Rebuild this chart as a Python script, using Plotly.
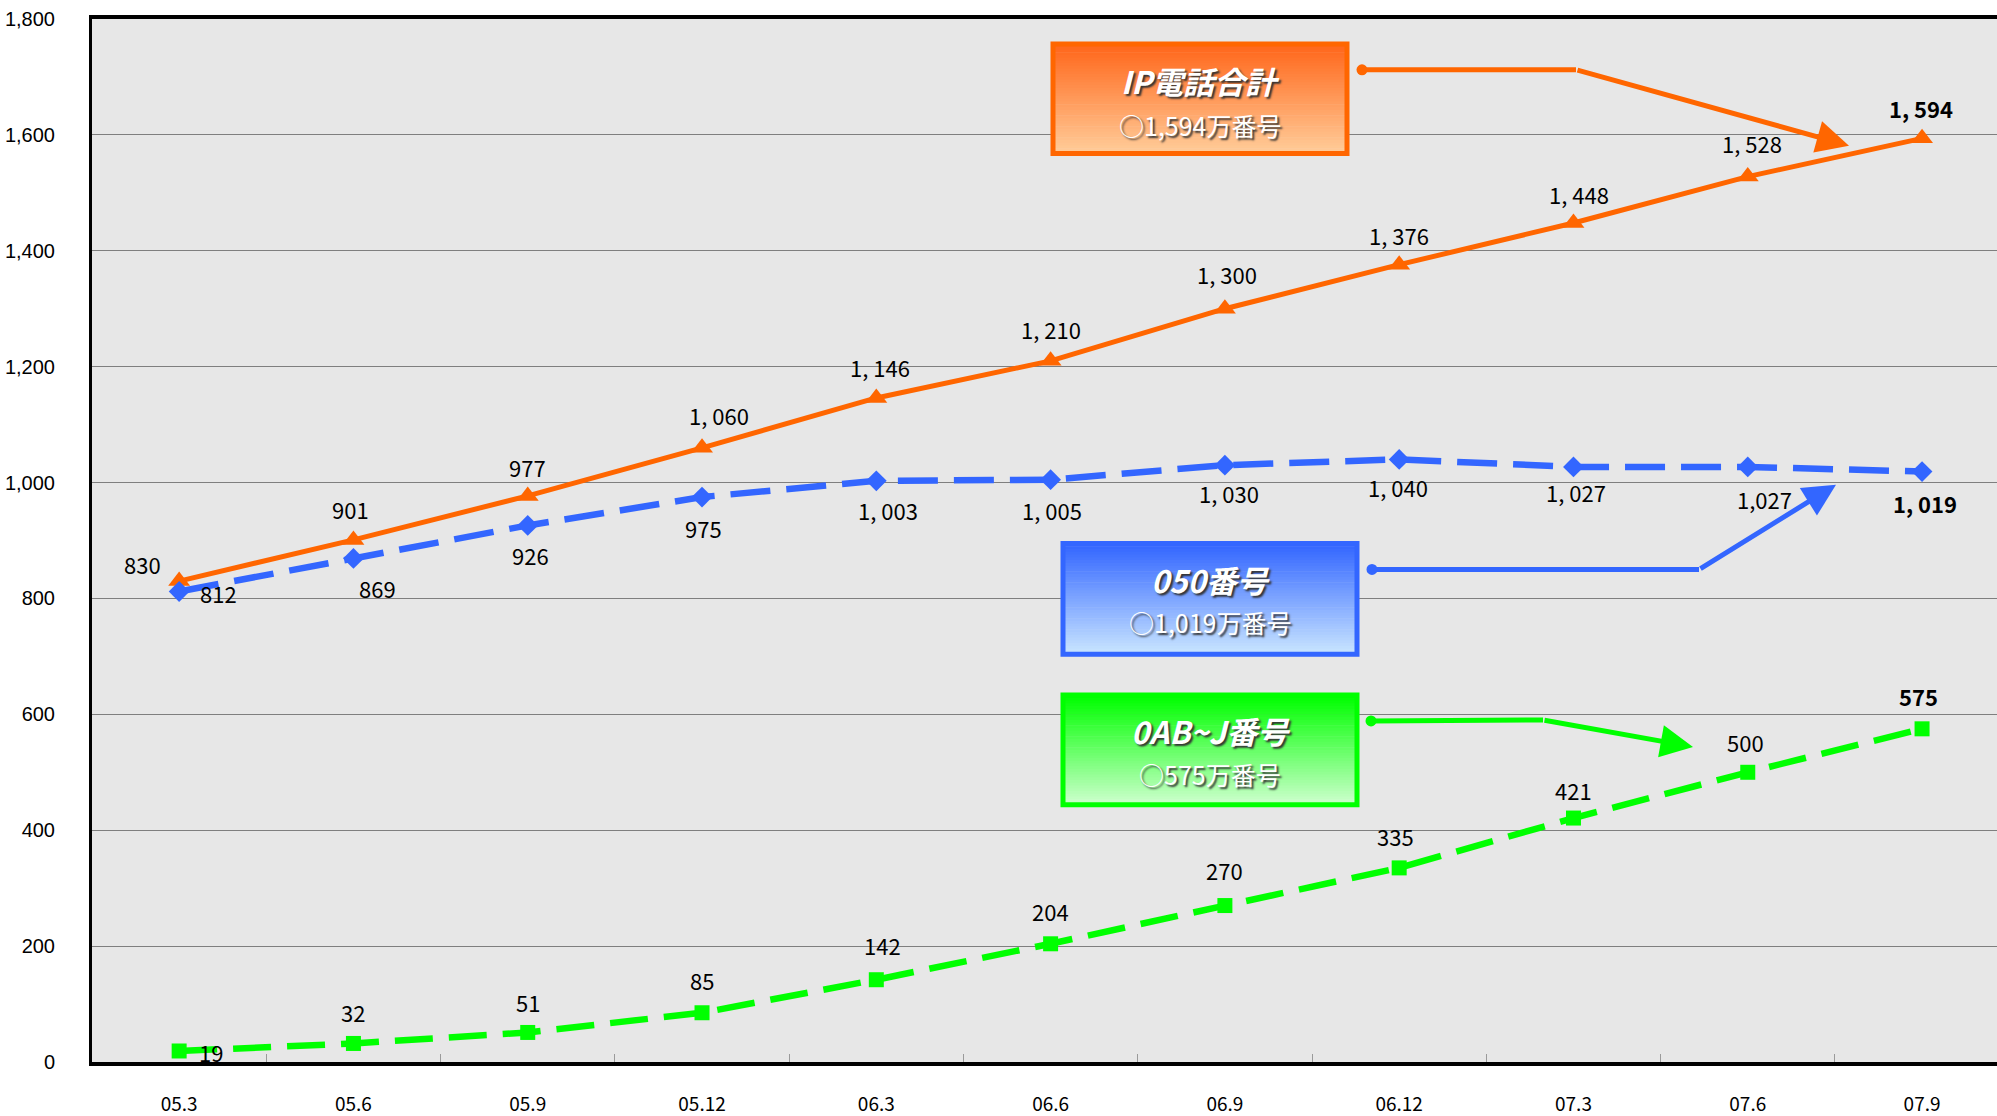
import plotly.graph_objects as go

# ---------------- data ----------------
categories = ["05.3", "05.6", "05.9", "05.12", "06.3", "06.6", "06.9", "06.12", "07.3", "07.6", "07.9"]
ip_total = [830, 901, 977, 1060, 1146, 1210, 1300, 1376, 1448, 1528, 1594]
num_050 = [812, 869, 926, 975, 1003, 1005, 1030, 1040, 1027, 1027, 1019]
num_0abj = [19, 32, 51, 85, 142, 204, 270, 335, 421, 500, 575]
y_tickvals = [0, 200, 400, 600, 800, 1000, 1200, 1400, 1600, 1800]
y_ticktext = ["0", "200", "400", "600", "800", "1,000", "1,200", "1,400", "1,600", "1,800"]

box_titles = ["IP電話合計", "050番号", "0AB~J番号"]
box_subtitles = ["○1,594万番号", "○1,019万番号", "○575万番号"]

# ---------------- styles / positions ----------------
ORANGE = "#ff6600"
BLUE = "#3366ff"
GREEN = "#00ff00"

W, H = 1997, 1116
L, RGT, T, B = 92, 1997, 19, 1065


def px(x):
    return (x - L) / (RGT - L)


def py(y):
    return (B - y) / (B - T)


# label offsets (pixels): (xshift, yshift)
S = 1.274
off_ip = [(-29, -13), (-2, -24), (0, -23), (13, -26), (3, -24), (0, -25), (2, -27), (0, -23), (4, -23), (3, -26), (-1, -24)]
off_050 = [(31, 1), (19, 23), (2, 23), (1, 24), (9, 23), (1, 24), (3, 22), (-1, 22), (2, 20), (13, 25), (2, 25)]
off_0abj = [(25, 1), (0, -25), (0, -24), (0, -26), (5, -27), (0, -26), (0, -28), (-3, -25), (0, -22), (-2, -24), (-3, -26)]

fig = go.Figure()

fig.add_trace(go.Scatter(
    x=categories, y=ip_total, mode="lines+markers", name="IP電話合計",
    line=dict(color=ORANGE, width=5),
    marker=dict(symbol="triangle-up", size=19, color=ORANGE),
))
fig.add_trace(go.Scatter(
    x=categories, y=num_050, mode="lines+markers", name="050番号",
    line=dict(color=BLUE, width=6.5, dash="40px,16px"),
    marker=dict(symbol="diamond", size=16, color=BLUE),
))
fig.add_trace(go.Scatter(
    x=categories, y=num_0abj, mode="lines+markers", name="0AB~J番号",
    line=dict(color=GREEN, width=6.5, dash="38px,16px"),
    marker=dict(symbol="square", size=15, color=GREEN),
))

annotations = []
LABEL_FONT = "Noto Sans CJK JP"


def fmt(v, spaced=True):
    s = f"{v:,}"
    return s.replace(",", ", ") if spaced else s


def add_labels(values, offsets, spaced=True, nospace_idx=()):
    n = len(values)
    for i, v in enumerate(values):
        txt = fmt(v, spaced and i not in nospace_idx)
        last = i == n - 1
        annotations.append(dict(
            x=i, y=v, xref="x", yref="y", text=txt, showarrow=False,
            xanchor="center", yanchor="middle",
            xshift=offsets[i][0] * S, yshift=-offsets[i][1] * S,
            font=dict(family=LABEL_FONT, size=22, color="#000000",
                      weight="bold" if last else "normal"),
        ))


add_labels(ip_total, off_ip)
add_labels(num_050, off_050, nospace_idx=(9,))
add_labels(num_0abj, off_0abj)

shapes = []


def gradient_box(x0, y0, x1, y1, top_rgb, bot_rgb, border, n=40):
    hgt = (y1 - y0) / n
    for k in range(n):
        t = k / (n - 1)
        r = round(top_rgb[0] + (bot_rgb[0] - top_rgb[0]) * t)
        g = round(top_rgb[1] + (bot_rgb[1] - top_rgb[1]) * t)
        b = round(top_rgb[2] + (bot_rgb[2] - top_rgb[2]) * t)
        shapes.append(dict(
            type="rect", xref="paper", yref="paper",
            x0=px(x0), x1=px(x1), y0=py(y0 + k * hgt), y1=py(y0 + (k + 1) * hgt + 0.6),
            fillcolor=f"rgb({r},{g},{b})", line=dict(width=0), layer="above",
        ))
    shapes.append(dict(
        type="rect", xref="paper", yref="paper",
        x0=px(x0), x1=px(x1), y0=py(y0), y1=py(y1),
        fillcolor="rgba(0,0,0,0)", line=dict(color=border, width=5), layer="above",
    ))


boxes = [
    dict(x0=1053, y0=44, x1=1347, y1=154, top=(255, 102, 26), bot=(255, 204, 153), border=ORANGE,
         ty1=81, ty2=125),
    dict(x0=1063, y0=545, x1=1357, y1=656, top=(51, 102, 255), bot=(200, 228, 255), border=BLUE,
         ty1=581, ty2=624),
    dict(x0=1063, y0=697, x1=1357, y1=807, top=(0, 255, 0), bot=(204, 255, 204), border=GREEN,
         ty1=733, ty2=776),
]

for bx, t1, t2 in zip(boxes, box_titles, box_subtitles):
    gradient_box(bx["x0"], bx["y0"], bx["x1"], bx["y1"], bx["top"], bx["bot"], bx["border"])
    cx = (bx["x0"] + bx["x1"]) / 2
    annotations.append(dict(
        x=px(cx), y=py(bx["ty1"]), xref="paper", yref="paper", text=t1, showarrow=False,
        xanchor="center", yanchor="middle",
        font=dict(family=LABEL_FONT, size=31, color="white", weight="bold", style="italic",
                  shadow="2px 2px 2px #333333"),
    ))
    annotations.append(dict(
        x=px(cx), y=py(bx["ty2"]), xref="paper", yref="paper", text=t2, showarrow=False,
        xanchor="center", yanchor="middle",
        font=dict(family=LABEL_FONT, size=25, color="white",
                  shadow="2px 2px 2px #333333"),
    ))

connectors = [
    dict(start=(1362, 70), mid=(1576, 70), tip=(1849, 146), color=ORANGE),
    dict(start=(1372, 571), mid=(1699, 571), tip=(1836, 486), color=BLUE),
    dict(start=(1371, 723), mid=(1543, 722), tip=(1693, 749), color=GREEN),
]
for cn in connectors:
    (sx, sy), (mx, my), (tx, ty) = cn["start"], cn["mid"], cn["tip"]
    shapes.append(dict(type="line", xref="paper", yref="paper",
                       x0=px(sx), y0=py(sy), x1=px(mx), y1=py(my),
                       line=dict(color=cn["color"], width=5), layer="above"))
    shapes.append(dict(type="circle", xref="paper", yref="paper",
                       x0=px(sx - 5.5), x1=px(sx + 5.5), y0=py(sy + 5.5), y1=py(sy - 5.5),
                       fillcolor=cn["color"], line=dict(width=0), layer="above"))
    annotations.append(dict(
        x=px(tx), y=py(ty), xref="paper", yref="paper", text="",
        showarrow=True, ax=mx - tx, ay=my - ty, axref="pixel", ayref="pixel",
        arrowhead=2, arrowsize=1.3, arrowwidth=5, arrowcolor=cn["color"],
    ))

fig.update_layout(
    width=W, height=H,
    margin=dict(l=L, r=W - RGT, t=T, b=H - B, pad=0),
    paper_bgcolor="white",
    plot_bgcolor="#e7e7e7",
    showlegend=False,
    shapes=shapes,
    annotations=annotations,
    xaxis=dict(
        type="category", range=[-0.5, 10.43],
        showline=True, linecolor="black", linewidth=4, mirror=True,
        showgrid=False, zeroline=False,
        ticks="inside", tickson="boundaries", ticklen=8, tickcolor="#9a9a9a", tickwidth=1,
        tickfont=dict(family=LABEL_FONT, size=19, color="black"),
        ticklabelstandoff=22,
    ),
    yaxis=dict(
        range=[0, 1800], tickvals=y_tickvals, ticktext=y_ticktext,
        showline=True, linecolor="black", linewidth=3, mirror=False,
        showgrid=True, gridcolor="#7f7f7f", gridwidth=1, zeroline=False,
        ticks="", tickfont=dict(family="Liberation Sans", size=20, color="black"),
        ticklabelstandoff=30,
    ),
)

fig.write_html("out.html", config={"displayModeBar": False},
               post_script="document.body.style.margin='0';")
